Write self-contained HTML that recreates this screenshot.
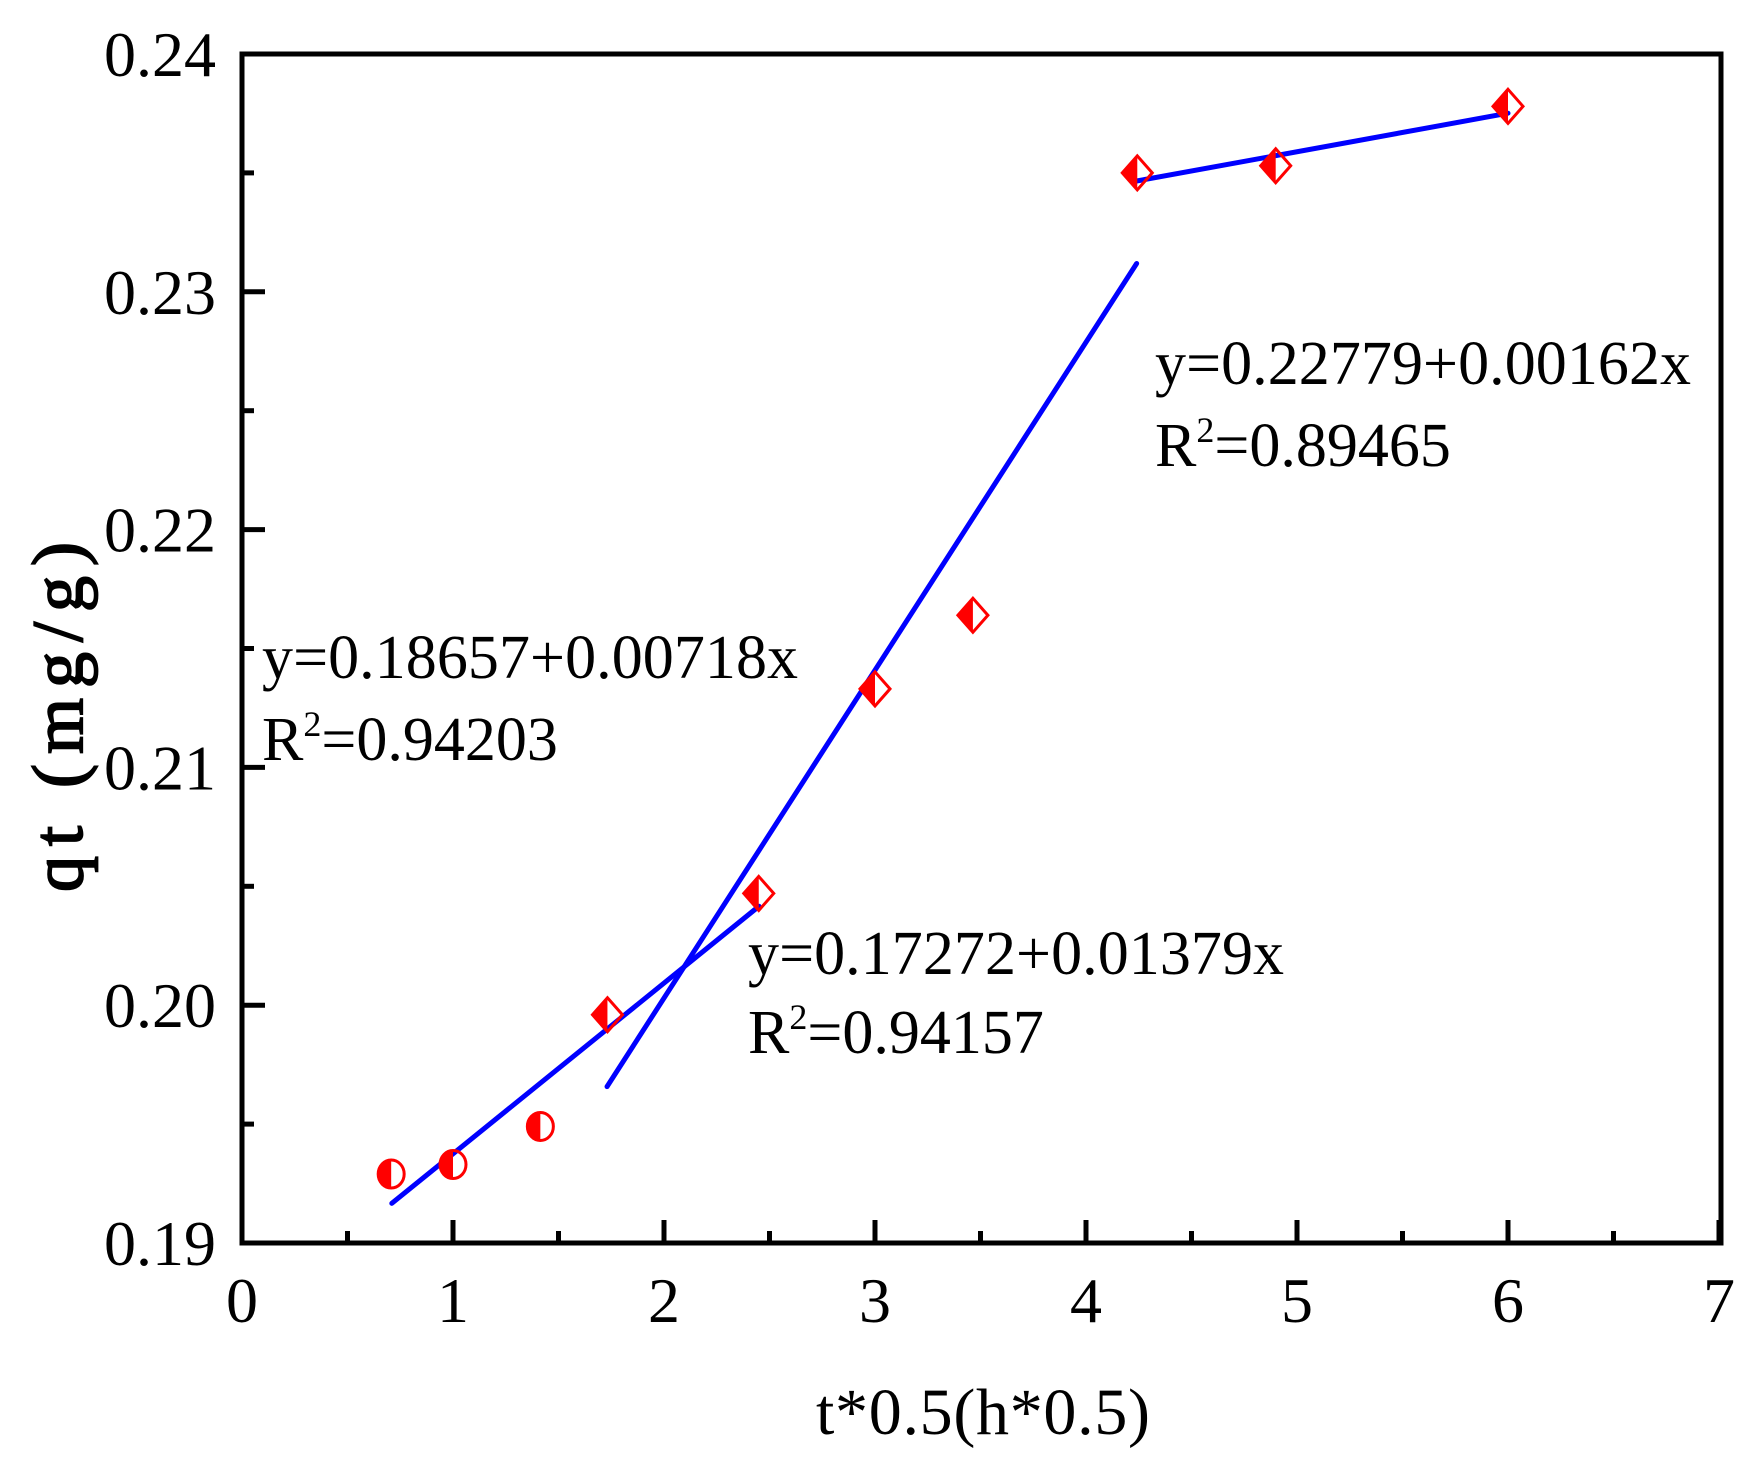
<!DOCTYPE html>
<html><head><meta charset="utf-8"><style>html,body{margin:0;padding:0;background:#fff}</style></head><body>
<svg width="1763" height="1467" xmlns="http://www.w3.org/2000/svg" font-family="Liberation Serif, serif">
<g stroke="#000" stroke-width="5" fill="none">
<rect x="242" y="54" width="1479" height="1189"/>
</g>
<g stroke="#000" stroke-width="5" id="ticks"></g>
<g font-size="64" fill="#000" id="labels"></g>
<g stroke="#0000ff" stroke-width="5" stroke-linecap="round" id="lines"></g>
<g id="pts"></g>
<g font-size="62" fill="#000">
<text x="1155" y="384" textLength="536">y=0.22779+0.00162x</text>
<text x="1155" y="466">R<tspan font-size="36" dy="-24">2</tspan><tspan dy="24">=0.89465</tspan></text>
<text x="262" y="678" textLength="536">y=0.18657+0.00718x</text>
<text x="262" y="760">R<tspan font-size="36" dy="-24">2</tspan><tspan dy="24">=0.94203</tspan></text>
<text x="748" y="974" textLength="536">y=0.17272+0.01379x</text>
<text x="748" y="1053">R<tspan font-size="36" dy="-24">2</tspan><tspan dy="24">=0.94157</tspan></text>
</g>
<text x="983" y="1434" font-size="66" text-anchor="middle" textLength="334">t*0.5(h*0.5)</text>
<text transform="translate(82,717) rotate(-90)" font-size="72" stroke="#000" stroke-width="1.8" text-anchor="middle" textLength="350">qt (mg/g)</text>
<script>
const X=x=>242+x*211, Y=y=>1243-(y-0.19)*23780;
const ns="http://www.w3.org/2000/svg";
function el(p,t,a,txt){const e=document.createElementNS(ns,t);for(const k in a)e.setAttribute(k,a[k]);if(txt!=null)e.textContent=txt;document.getElementById(p).appendChild(e);}
for(let i=0;i<=14;i++){const x=X(i/2),L=i%2?12:23;el('ticks','line',{x1:x,y1:1243,x2:x,y2:1243-L});}
for(let i=0;i<=10;i++){const y=Y(0.19+i*0.005),L=i%2?12:23;el('ticks','line',{x1:242,y1:y,x2:242+L,y2:y});}
for(let i=0;i<=7;i++)el('labels','text',{x:X(i),y:1322,'text-anchor':'middle'},String(i));
for(let i=0;i<=5;i++)el('labels','text',{x:216,y:Y(0.19+i*0.01)+22,'text-anchor':'end'},(0.19+i*0.01).toFixed(2));
[[0.71,2.45,0.18657,0.00718],[1.73,4.24,0.17272,0.01379],[4.24,6,0.22779,0.00162]].forEach(([a,b,c,m])=>el('lines','line',{x1:X(a),y1:Y(c+m*a),x2:X(b),y2:Y(c+m*b)}));
const pts=[[0.707,0.1929,0],[1,0.1933,0],[1.414,0.1949,0],[1.732,0.1996,1],[2.449,0.2047,1],[3,0.2133,1],[3.464,0.2164,1],[4.243,0.2350,1],[4.899,0.2353,1],[6,0.2378,1]];
pts.forEach(([x,y,d])=>{const cx=X(x),cy=Y(y);
if(!d){el('pts','path',{d:`M${cx},${cy-14} A13,14 0 0 0 ${cx},${cy+14}Z`,fill:'#ff0000'});el('pts','ellipse',{cx,cy,rx:13,ry:14,fill:'none',stroke:'#ff0000','stroke-width':3});}
else{el('pts','path',{d:`M${cx},${cy-17} L${cx-15},${cy} L${cx},${cy+17}Z`,fill:'#ff0000'});el('pts','path',{d:`M${cx},${cy-17} L${cx+15},${cy} L${cx},${cy+17} L${cx-15},${cy}Z`,fill:'none',stroke:'#ff0000','stroke-width':3});}});
</script>
</svg>
</body></html>
